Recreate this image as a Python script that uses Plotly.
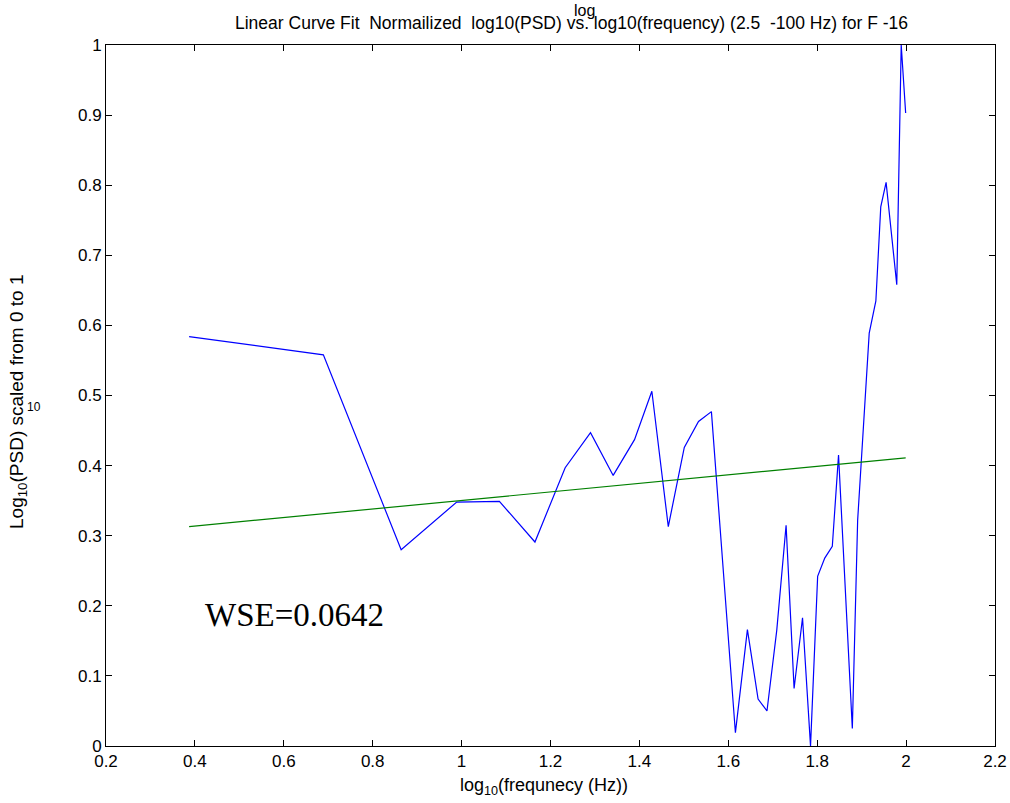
import plotly.graph_objects as go

# Data
log_freq = [0.387, 0.689, 0.864, 0.989, 1.085, 1.165, 1.233, 1.290, 1.341, 1.389,
            1.428, 1.465, 1.501, 1.533, 1.562, 1.616, 1.643, 1.667, 1.687, 1.709,
            1.730, 1.748, 1.767, 1.785, 1.801, 1.817, 1.834, 1.848, 1.879, 1.891,
            1.917, 1.932, 1.943, 1.955, 1.979, 1.989, 1.999]
log_psd = [0.584, 0.558, 0.280, 0.348, 0.349, 0.291, 0.397, 0.447, 0.386, 0.437,
           0.506, 0.313, 0.426, 0.463, 0.477, 0.019, 0.166, 0.067, 0.050, 0.165,
           0.315, 0.082, 0.183, 0.000, 0.242, 0.268, 0.285, 0.415, 0.025, 0.322,
           0.589, 0.635, 0.769, 0.804, 0.658, 1.000, 0.903]
fit_x = [0.387, 1.999]
fit_y = [0.313, 0.411]

x_ticks = [0.2, 0.4, 0.6, 0.8, 1.0, 1.2, 1.4, 1.6, 1.8, 2.0, 2.2]
x_tick_labels = ["0.2", "0.4", "0.6", "0.8", "1", "1.2", "1.4", "1.6", "1.8", "2", "2.2"]
y_ticks = [0, 0.1, 0.2, 0.3, 0.4, 0.5, 0.6, 0.7, 0.8, 0.9, 1.0]
y_tick_labels = ["0", "0.1", "0.2", "0.3", "0.4", "0.5", "0.6", "0.7", "0.8", "0.9", "1"]

fig = go.Figure()
fig.add_trace(go.Scatter(x=log_freq, y=log_psd, mode="lines",
                         line=dict(color="#0000ff", width=1.2), showlegend=False))
fig.add_trace(go.Scatter(x=fit_x, y=fit_y, mode="lines",
                         line=dict(color="#008000", width=1.2), showlegend=False))

font = "Liberation Sans, Arial, sans-serif"
axis_common = dict(showgrid=False, zeroline=False, showline=True, linecolor="black",
                   linewidth=1, mirror="ticks", ticks="inside", ticklen=6,
                   tickcolor="black", automargin=False,
                   tickfont=dict(family=font, size=17, color="black"))

fig.update_xaxes(range=[0.2, 2.2], tickvals=x_ticks, ticktext=x_tick_labels, **axis_common)
fig.update_yaxes(range=[0, 1], tickvals=y_ticks, ticktext=y_tick_labels, **axis_common)

W, H = 1010, 803
L, R, T, B = 106, 15, 45, 57
pw, ph = W - L - R, H - T - B

def px(x):
    return (x - L) / pw

def py(y):
    return (H - B - y) / ph

annotations = [
    dict(text="Linear Curve Fit  Normailized  log10(PSD) vs. log10(frequency) (2.5  -100 Hz) for F -16",
         x=px(571), y=py(23), xref="paper", yref="paper", showarrow=False,
         xanchor="center", yanchor="middle", font=dict(family=font, size=17.5, color="black")),
    dict(text="log", x=px(584), y=py(11), xref="paper", yref="paper", showarrow=False,
         xanchor="center", yanchor="middle", font=dict(family=font, size=16, color="black")),
    dict(text="log<sub>10</sub>(frequnecy (Hz))", x=px(544), y=py(786), xref="paper", yref="paper",
         showarrow=False, xanchor="center", yanchor="middle",
         font=dict(family=font, size=18, color="black")),
    dict(text="Log<sub>10</sub>(PSD) scaled from 0 to 1", x=px(18), y=py(402), xref="paper",
         yref="paper", showarrow=False, textangle=-90, xanchor="center", yanchor="middle",
         font=dict(family=font, size=19, color="black")),
    dict(text="10", x=px(34), y=py(407), xref="paper", yref="paper", showarrow=False,
         xanchor="center", yanchor="middle", font=dict(family=font, size=12, color="black")),
    dict(text="WSE=0.0642", x=0.418, y=0.187, xref="x", yref="y", showarrow=False,
         xanchor="left", yanchor="middle",
         font=dict(family="Liberation Serif, Times New Roman, serif", size=33, color="black")),
]

fig.update_layout(width=W, height=H, margin=dict(l=L, r=R, t=T, b=B),
                  plot_bgcolor="white", paper_bgcolor="white",
                  annotations=annotations, font=dict(family=font, color="black"))

fig.write_html("out.html")
